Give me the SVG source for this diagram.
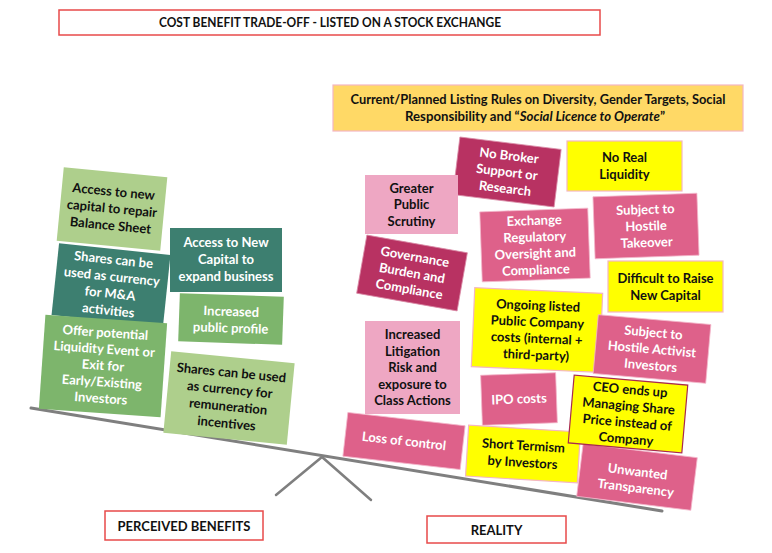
<svg xmlns="http://www.w3.org/2000/svg" width="772" height="553" viewBox="0 0 772 553">
<style>
text{font-family:Lato,"Open Sans","Liberation Sans",sans-serif;font-weight:bold;text-anchor:middle;font-size:13px}
.w{fill:#fff}.k{fill:#111}
.lg{fill:#aecf8c}.tl{fill:#3d7f70}.mg{fill:#7db56c}
.dm{fill:#b83262;stroke:#d98aa6;stroke-width:.8}.pk{fill:#de618a;stroke:#f3b6ca;stroke-width:.8}.lp{fill:#eea7c3}
.ye{fill:#ffff00;stroke:#f4b6c2;stroke-width:1.2}
.lab{fill:#fff;stroke:#e84a4a;stroke-width:1.5}
.beam{stroke:#7f7f7f;fill:none;stroke-linecap:round}
</style>
<g id="title"><rect class="lab" x="59" y="10" width="541" height="25"/><text class="k" x="330" y="26.5" font-size="12.5" textLength="342" lengthAdjust="spacingAndGlyphs">COST BENEFIT TRADE-OFF - LISTED ON A STOCK EXCHANGE</text></g>
<g id="connectors">
<line class="beam" x1="31" y1="408" x2="662" y2="511" stroke-width="3"/>
<polyline class="beam" points="276,495 322,457 371,500" stroke-width="2.5"/>
</g>
<g id="n-repair" transform="translate(112 209) rotate(5.5)"><rect class="lg" x="-52" y="-37" width="104" height="74"/><text class="k"><tspan x="0" y="-13">Access to new</tspan><tspan x="0" y="4">capital to repair</tspan><tspan x="0" y="21">Balance Sheet</tspan></text></g>
<g id="n-ma" transform="translate(111 285) rotate(6)"><rect class="tl" x="-56" y="-36" width="112" height="72"/><text class="w"><tspan x="0" y="-21">Shares can be</tspan><tspan x="0" y="-4">used as currency</tspan><tspan x="0" y="13">for M&amp;A</tspan><tspan x="0" y="30">activities</tspan></text></g>
<g id="n-expand" transform="translate(226 260)"><rect class="tl" x="-56" y="-32" width="112" height="64"/><text class="w"><tspan x="0" y="-13">Access to New</tspan><tspan x="0" y="4">Capital to</tspan><tspan x="0" y="21">expand business</tspan></text></g>
<g id="n-profile" transform="translate(231 319) rotate(2)"><rect class="mg" x="-52" y="-24" width="104" height="48"/><text class="w"><tspan x="0" y="-3">Increased</tspan><tspan x="0" y="13.5">public profile</tspan></text></g>
<g id="n-liquidity" transform="translate(103 366) rotate(4)"><rect class="mg" x="-61" y="-47" width="122" height="94"/><text class="w"><tspan x="0" y="-29">Offer potential</tspan><tspan x="0" y="-12.5">Liquidity Event or</tspan><tspan x="0" y="4">Exit for</tspan><tspan x="0" y="20.5">Early/Existing</tspan><tspan x="0" y="37">Investors</tspan></text></g>
<g id="n-remun" transform="translate(229 398) rotate(5.5)"><rect class="lg" x="-62" y="-41" width="124" height="82"/><text class="k"><tspan x="0" y="-21">Shares can be used</tspan><tspan x="0" y="-4">as currency for</tspan><tspan x="0" y="13">remuneration</tspan><tspan x="0" y="30">incentives</tspan></text></g>
<g id="n-banner"><rect x="333" y="85" width="410" height="46" fill="#ffd966" stroke="#f4b6c2" stroke-width="1.2"/><text class="k" x="538" y="104" textLength="375" lengthAdjust="spacingAndGlyphs">Current/Planned Listing Rules on Diversity, Gender Targets, Social</text><text class="k" x="535" y="121" textLength="260" lengthAdjust="spacingAndGlyphs">Responsibility and “<tspan font-style="italic">Social Licence to Operate</tspan>”</text></g>
<g id="n-broker" transform="translate(507 172) rotate(7)"><rect class="dm" x="-51" y="-29" width="102" height="58"/><text class="w"><tspan x="0" y="-12">No Broker</tspan><tspan x="0" y="4.5">Support or</tspan><tspan x="0" y="21">Research</tspan></text></g>
<g id="n-noliq" transform="translate(624.5 166)"><rect class="ye" x="-57.5" y="-25" width="115" height="50"/><text class="k"><tspan x="0" y="-4">No Real</tspan><tspan x="0" y="13">Liquidity</tspan></text></g>
<g id="n-scrutiny" transform="translate(411.5 204.5)"><rect class="lp" x="-46.5" y="-29.5" width="93" height="59"/><text class="k"><tspan x="0" y="-12">Greater</tspan><tspan x="0" y="4.5">Public</tspan><tspan x="0" y="21">Scrutiny</tspan></text></g>
<g id="n-exchange" transform="translate(535 245) rotate(-2)"><rect class="pk" x="-54" y="-35" width="108" height="70"/><text class="w"><tspan x="0" y="-20">Exchange</tspan><tspan x="0" y="-3.5">Regulatory</tspan><tspan x="0" y="13">Oversight and</tspan><tspan x="0" y="29.5">Compliance</tspan></text></g>
<g id="n-takeover" transform="translate(646 226) rotate(-2)"><rect class="pk" x="-52" y="-31" width="104" height="62"/><text class="w"><tspan x="0" y="-12">Subject to</tspan><tspan x="0" y="4.5">Hostile</tspan><tspan x="0" y="21">Takeover</tspan></text></g>
<g id="n-governance" transform="translate(412 273) rotate(10)"><rect class="dm" x="-51" y="-29.5" width="102" height="59"/><text class="w"><tspan x="0" y="-12">Governance</tspan><tspan x="0" y="4.5">Burden and</tspan><tspan x="0" y="21">Compliance</tspan></text></g>
<g id="n-difficult" transform="translate(665.5 286.5)"><rect class="ye" x="-57.5" y="-25.5" width="115" height="51"/><text class="k"><tspan x="0" y="-4">Difficult to Raise</tspan><tspan x="0" y="13">New Capital</tspan></text></g>
<g id="n-ongoing" transform="translate(537 330) rotate(2.5)"><rect class="ye" x="-64" y="-39.5" width="128" height="79"/><text class="k"><tspan x="0" y="-20">Ongoing listed</tspan><tspan x="0" y="-3.5">Public Company</tspan><tspan x="0" y="13">costs (internal +</tspan><tspan x="0" y="29.5">third-party)</tspan></text></g>
<g id="n-activist" transform="translate(652 349) rotate(5)"><rect class="pk" x="-56.5" y="-29.5" width="113" height="59"/><text class="w"><tspan x="0" y="-12">Subject to</tspan><tspan x="0" y="4.5">Hostile Activist</tspan><tspan x="0" y="21">Investors</tspan></text></g>
<g id="n-litigation" transform="translate(412.5 367.5)"><rect class="lp" x="-47.5" y="-46.5" width="95" height="93"/><text class="k"><tspan x="0" y="-28.5">Increased</tspan><tspan x="0" y="-12">Litigation</tspan><tspan x="0" y="4.5">Risk and</tspan><tspan x="0" y="21">exposure to</tspan><tspan x="0" y="37.5">Class Actions</tspan></text></g>
<g id="n-ipo" transform="translate(519 399) rotate(-2)"><rect class="pk" x="-37.5" y="-25" width="75" height="50"/><text class="w"><tspan x="0" y="4.5">IPO costs</tspan></text></g>
<g id="n-loss" transform="translate(404 441) rotate(6.5)"><rect class="pk" x="-59" y="-22" width="118" height="44"/><text class="w"><tspan x="0" y="4.5">Loss of control</tspan></text></g>
<g id="n-short" transform="translate(523 454) rotate(3.5)"><rect class="ye" x="-56" y="-25.5" width="112" height="51"/><text class="k"><tspan x="0" y="-4">Short Termism</tspan><tspan x="0" y="13">by Investors</tspan></text></g>
<g id="n-unwanted" transform="translate(637 477) rotate(7)"><rect class="pk" x="-57.5" y="-26.5" width="115" height="53"/><text class="w"><tspan x="0" y="-1">Unwanted</tspan><tspan x="0" y="15.5">Transparency</tspan></text></g>
<g id="n-ceo" transform="translate(628 414) rotate(5)"><rect x="-57" y="-34" width="114" height="68" fill="#ffff00" stroke="#a8284f" stroke-width="1.2"/><text class="k"><tspan x="0" y="-20">CEO ends up</tspan><tspan x="0" y="-3.5">Managing Share</tspan><tspan x="0" y="13">Price instead of</tspan><tspan x="0" y="29.5">Company</tspan></text></g>
<g id="l-benefits"><rect class="lab" x="105" y="511" width="158" height="29"/><text class="k" x="184" y="531" font-size="14.5">PERCEIVED BENEFITS</text></g>
<g id="l-reality"><rect class="lab" x="427" y="516" width="139" height="27"/><text class="k" x="496.5" y="535" font-size="14.5">REALITY</text></g>
</svg>
